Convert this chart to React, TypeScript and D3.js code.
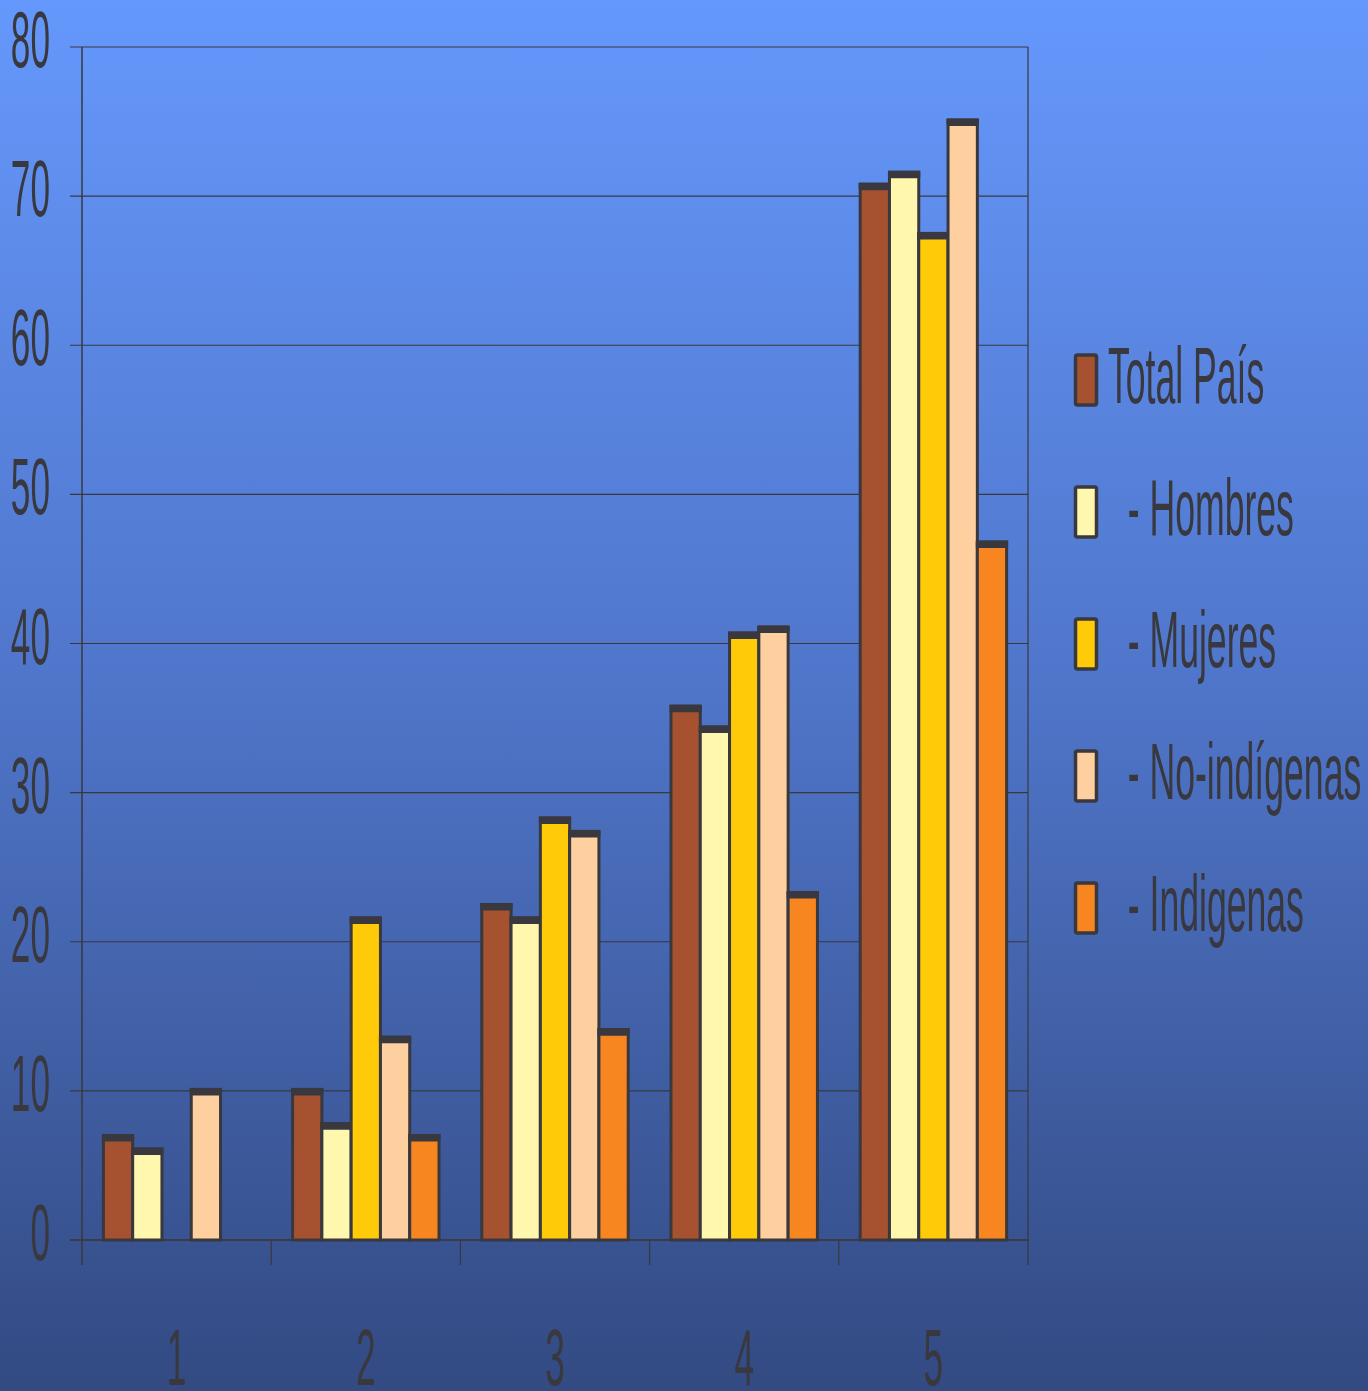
import { scaleBand, scaleLinear } from 'd3'

const WIDTH = 1368
const HEIGHT = 1391
const PLOT = { left: 82, right: 1028, top: 47, bottom: 1240 }

const categories = ['1', '2', '3', '4', '5']
const seriesNames = ['Total País', '  - Hombres', '  - Mujeres', '  - No-indígenas', '  - Indigenas']
const seriesColors = ['#a65231', '#fff7ad', '#ffcb08', '#fecf9f', '#f78620']

const totalPais = [7.0, 10.1, 22.5, 35.8, 70.8]
const hombres = [6.1, 7.8, 21.6, 34.4, 71.6]
const mujeres: (number | null)[] = [null, 21.6, 28.3, 40.7, 67.5]
const noIndigenas = [10.1, 13.6, 27.4, 41.1, 75.1]
const indigenas: (number | null)[] = [null, 7.0, 14.1, 23.3, 46.8]
const seriesValues = [totalPais, hombres, mujeres, noIndigenas, indigenas]

const yTicks = [0, 10, 20, 30, 40, 50, 60, 70, 80]

const INK = '#38383e'
const FONT = '"Liberation Sans", Arial, sans-serif'
const SQUEEZE = 0.44

export default function App() {
  const y = scaleLinear().domain([0, 80]).range([PLOT.bottom, PLOT.top])
  const x0 = scaleBand<string>().domain(categories).range([PLOT.left, PLOT.right])
  const bw = x0.bandwidth()
  const x1 = scaleBand<number>()
    .domain(seriesNames.map((_, i) => i))
    .range([bw * 0.113, bw * 0.887])
  const barW = x1.bandwidth()

  return (
    <svg
      width={WIDTH}
      height={HEIGHT}
      viewBox={`0 0 ${WIDTH} ${HEIGHT}`}
      style={{ position: 'absolute', left: 0, top: 0, display: 'block' }}
    >
      <defs>
        <linearGradient id="bg" x1="0" y1="0" x2="0" y2="1">
          <stop offset="0%" stopColor="#6598fc" />
          <stop offset="50%" stopColor="#4f75c9" />
          <stop offset="100%" stopColor="#334a82" />
        </linearGradient>
      </defs>
      <rect x={0} y={0} width={WIDTH} height={HEIGHT} fill="url(#bg)" />

      {/* gridlines + y labels */}
      {yTicks.map((t) => (
        <g key={t}>
          <line x1={70} x2={PLOT.right} y1={y(t)} y2={y(t)} stroke={INK} strokeWidth={1.2} />
          <text
            transform={`translate(50, ${y(t) + 20}) scale(${SQUEEZE}, 1)`}
            textAnchor="end"
            fontFamily={FONT}
            fontSize={80}
            fill={INK}
          >
            {t}
          </text>
        </g>
      ))}

      {/* frame */}
      <line x1={PLOT.left} x2={PLOT.left} y1={PLOT.top} y2={1265} stroke={INK} strokeWidth={1.5} />
      <line x1={PLOT.right} x2={PLOT.right} y1={PLOT.top} y2={1265} stroke={INK} strokeWidth={1.2} />
      {categories.slice(1).map((c) => (
        <line key={c} x1={x0(c)} x2={x0(c)} y1={PLOT.bottom} y2={1265} stroke={INK} strokeWidth={1.2} />
      ))}

      {/* bars */}
      {categories.map((c, ci) =>
        seriesValues.map((vals, si) => {
          const v = vals[ci]
          if (v == null) return null
          const bx = (x0(c) ?? 0) + (x1(si) ?? 0)
          const top = y(v)
          return (
            <g key={`${c}-${si}`}>
              <rect
                x={bx}
                y={top}
                width={barW}
                height={PLOT.bottom - top}
                fill={seriesColors[si]}
                stroke={INK}
                strokeWidth={3}
              />
              <rect x={bx - 1.5} y={top - 1.5} width={barW + 3} height={7.5} rx={1} fill={INK} />
            </g>
          )
        })
      )}

      <line x1={70} x2={PLOT.right} y1={PLOT.bottom} y2={PLOT.bottom} stroke={INK} strokeWidth={1.5} />

      {/* category labels */}
      {categories.map((c) => (
        <text
          key={c}
          transform={`translate(${(x0(c) ?? 0) + bw / 2}, 1385) scale(${SQUEEZE}, 1)`}
          textAnchor="middle"
          fontFamily={FONT}
          fontSize={80}
          fill={INK}
        >
          {c}
        </text>
      ))}

      {/* legend */}
      {seriesNames.map((name, i) => {
        const cy = 380 + i * 132
        return (
          <g key={name}>
            <rect
              x={1075.5}
              y={cy - 25}
              width={21}
              height={50}
              rx={2}
              fill={seriesColors[i]}
              stroke={INK}
              strokeWidth={3.5}
            />
            <text
              transform={`translate(1108, ${cy + 23}) scale(0.445, 1)`}
              fontFamily={FONT}
              fontSize={80}
              fill={INK}
              style={{ whiteSpace: 'pre' }}
            >
              {name}
            </text>
          </g>
        )
      })}
    </svg>
  )
}
